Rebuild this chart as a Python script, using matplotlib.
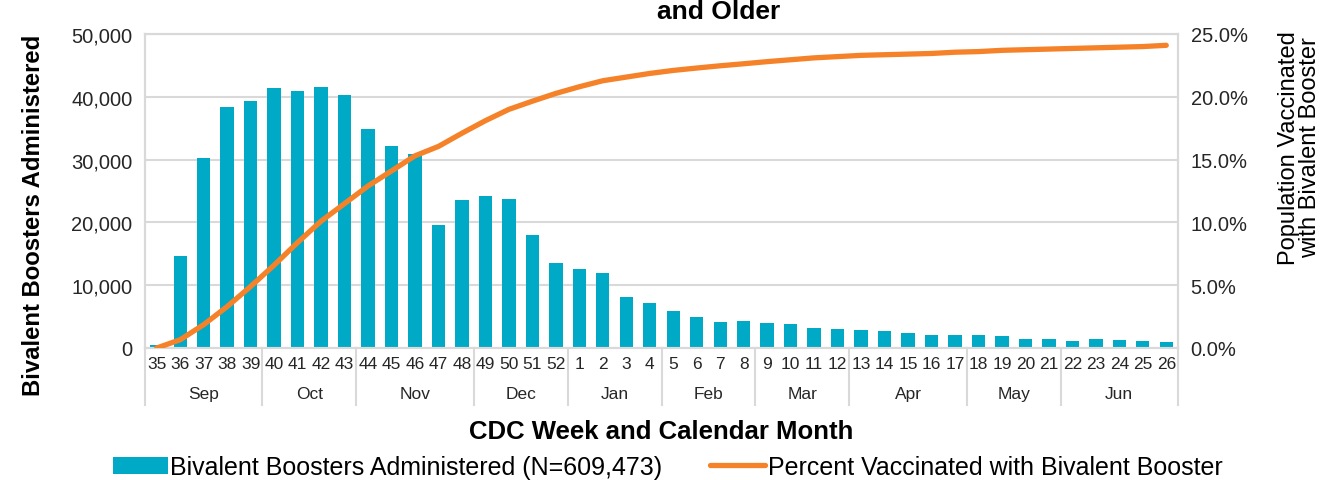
import matplotlib
matplotlib.use("Agg")
import matplotlib.pyplot as plt
import matplotlib.transforms as mtransforms
from matplotlib.ticker import FuncFormatter, MultipleLocator
import numpy as np

# ---- data ----
weeks = ["35", "36", "37", "38", "39", "40", "41", "42", "43", "44", "45", "46",
         "47", "48", "49", "50", "51", "52", "1", "2", "3", "4", "5", "6", "7",
         "8", "9", "10", "11", "12", "13", "14", "15", "16", "17", "18", "19",
         "20", "21", "22", "23", "24", "25", "26"]
months = ["Sep", "Oct", "Nov", "Dec", "Jan", "Feb", "Mar", "Apr", "May", "Jun"]
month_counts = [5, 4, 5, 4, 4, 4, 4, 5, 4, 5]
boosters = [530, 14650, 30250, 38400, 39400, 41400, 40850, 41600, 40300, 34900,
            32200, 30900, 19600, 23600, 24200, 23700, 18000, 13500, 12600, 12000,
            8200, 7100, 5900, 5000, 4100, 4300, 4000, 3900, 3200, 3050, 2900,
            2700, 2400, 2100, 2000, 2000, 1850, 1500, 1450, 1100, 1500, 1280,
            1170, 1000]
pct_vacc = [0.0, 0.66, 1.86, 3.3, 4.9, 6.6, 8.4, 10.1, 11.5, 12.9, 14.1, 15.3,
            16.05, 17.1, 18.1, 19.0, 19.65, 20.27, 20.8, 21.28, 21.57, 21.86,
            22.1, 22.29, 22.47, 22.63, 22.8, 22.95, 23.1, 23.2, 23.3, 23.35,
            23.4, 23.45, 23.55, 23.6, 23.7, 23.75, 23.8, 23.85, 23.9, 23.95,
            24.0, 24.1]

bar_label = "Bivalent Boosters Administered (N=609,473)"
line_label = "Percent Vaccinated with Bivalent Booster"

BAR_C = "#00A9C6"
LINE_C = "#F58229"
GRID_C = "#D9D9D9"
TXT = "#262626"

plt.rcParams["font.family"] = ["Liberation Sans Narrow", "Liberation Sans", "DejaVu Sans"]

fig = plt.figure(figsize=(13.3, 4.81), dpi=100)
ax = fig.add_axes([145 / 1330, 1 - 349 / 481, (1178 - 145) / 1330, (349 - 35) / 481])
ax2 = ax.twinx()

x = np.arange(len(weeks))
bars = ax.bar(x, boosters, width=0.57, color=BAR_C, zorder=2, label=bar_label)
line, = ax2.plot(x, pct_vacc, color=LINE_C, lw=3.8, solid_capstyle="round",
                 zorder=3, label=line_label)

ax.set_xlim(-0.5, len(weeks) - 0.5)
ax.set_ylim(0, 50000)
ax2.set_ylim(0, 25)
ax.yaxis.set_major_locator(MultipleLocator(10000))
ax2.yaxis.set_major_locator(MultipleLocator(5))
ax.yaxis.set_major_formatter(FuncFormatter(lambda v, p: f"{int(v):,}"))
ax2.yaxis.set_major_formatter(FuncFormatter(lambda v, p: f"{v:.1f}%"))
ax.grid(axis="y", color=GRID_C, lw=1.5, zorder=0)
ax.set_axisbelow(True)

for a in (ax, ax2):
    for s in a.spines.values():
        s.set_color(GRID_C)
        s.set_linewidth(1.5)
    a.tick_params(axis="y", length=0, labelsize=14.5, labelcolor=TXT, pad=9)
ax2.set_zorder(ax.get_zorder() + 1)
ax.patch.set_visible(True)
ax2.patch.set_visible(False)

# week labels
ax.set_xticks(x)
ax.set_xticklabels(weeks)
ax.tick_params(axis="x", length=0, labelsize=12.5, labelcolor=TXT, pad=6)

# month labels and separators
trans = mtransforms.blended_transform_factory(ax.transData, ax.transAxes)
start = 0
bounds = [-0.5]
for m, c in zip(months, month_counts):
    center = start + (c - 1) / 2
    ax.text(center, -0.145, m, transform=trans, ha="center", va="center",
            fontsize=12.5, color=TXT)
    start += c
    bounds.append(start - 0.5)
for b in bounds:
    ax.plot([b, b], [0, -0.18], transform=trans, color=GRID_C, lw=1.5,
            clip_on=False, zorder=1)

ax.set_ylabel("Bivalent Boosters Administered", fontsize=17.2, fontweight="bold",
              color="black")
ax.yaxis.set_label_coords(-0.097, 0.427)
ax2.set_ylabel("Population Vaccinated\nwith Bivalent Booster", fontsize=17,
               color="black", linespacing=0.95)
ax2.yaxis.set_label_coords(1.097, 0.64)
ax.set_xlabel("CDC Week and Calendar Month", fontsize=18.5, fontweight="bold",
              color="black", labelpad=34)

fig.text(719 / 1330, 1.0, "and Older", ha="center", va="top", fontsize=19,
         fontweight="bold", color="black")

fig.legend(handles=[bars, line], labels=[bar_label, line_label], loc="lower center",
           bbox_to_anchor=(0.502, -0.045), ncol=2, frameon=False, fontsize=18,
           handlelength=2.2, columnspacing=1.9, handletextpad=0.1)

fig.savefig("out.png", dpi=100)
